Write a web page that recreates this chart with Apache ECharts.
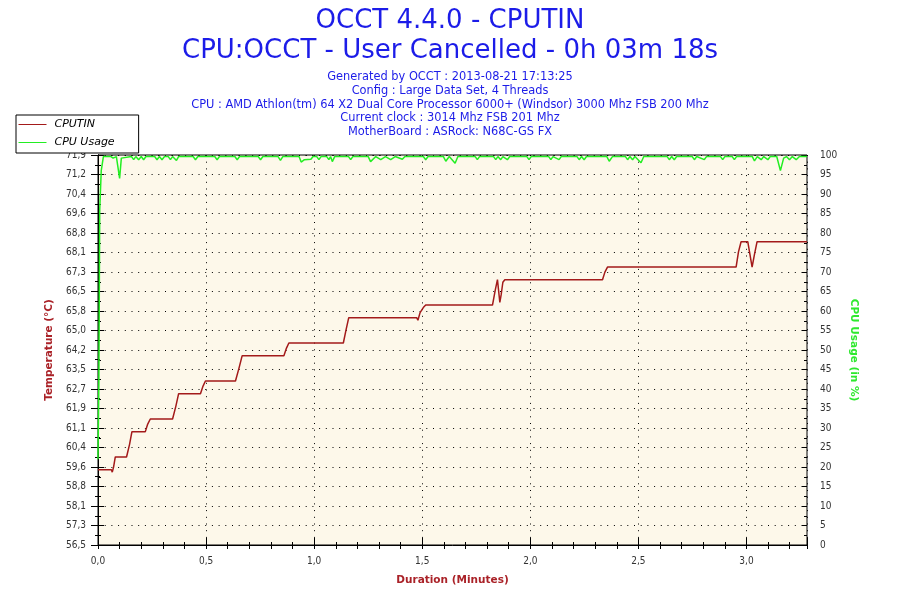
<!DOCTYPE html>
<html>
<head>
<meta charset="utf-8">
<script src="https://cdn.jsdelivr.net/npm/echarts@6/dist/echarts.min.js"></script>
<style>html,body{margin:0;padding:0;background:#fff}#c{width:900px;height:600px}</style>
</head>
<body>
<div id="c"></div>
<script>
// ---- data ----
const titleLines = ['OCCT 4.4.0 - CPUTIN', 'CPU:OCCT - User Cancelled - 0h 03m 18s'];
const infoLines = [
  'Generated by OCCT : 2013-08-21 17:13:25',
  'Config : Large Data Set, 4 Threads',
  'CPU : AMD Athlon(tm) 64 X2 Dual Core Processor 6000+ (Windsor) 3000 Mhz FSB 200 Mhz',
  'Current clock : 3014 Mhz FSB 201 Mhz',
  'MotherBoard : ASRock: N68C-GS FX'
];
const seriesNames = ['CPUTIN', 'CPU Usage'];

const tempTimes = [0,0.062,0.066,0.072,0.08, 0.132,0.136,0.146,0.157, 0.219,0.23,0.242, 0.345,0.36,0.373,
  0.474,0.486,0.497, 0.636,0.652,0.667, 0.86,0.872,0.883, 1.135,1.147,1.16, 1.474,1.48,1.49,1.505,1.516,
  1.825,1.838,1.848,1.852,1.859,1.865,1.873,1.882, 2.334,2.345,2.357,
  2.952,2.963,2.975,3.006,3.016,3.026,3.037,3.049, 3.28];
const tempValues = [59.5,59.5,59.4,59.6,60.0, 60.0,59.95,60.5,61.0, 61.0,61.3,61.5, 61.5,62.0,62.5,
  62.5,62.8,63.0, 63.0,63.5,64.0, 64.0,64.3,64.5, 64.5,65.0,65.5, 65.5,65.4,65.7,65.9,66.0,
  66.0,66.6,67.0,67.0,66.1,66.4,66.9,67.0, 67.0,67.3,67.5,
  67.5,68.1,68.5,68.5,68.0,67.5,68.0,68.5, 68.5];

const cpuTimes = [0,0.004,0.008,0.015,0.025, 0.06,0.07,0.085,0.1,0.108,0.115,
  0.155,0.165,0.175,0.188,0.2,0.211,0.222, 0.262,0.273,0.284,0.296,0.308, 0.325,0.335,0.345,0.363,0.373,
  0.44,0.451,0.462, 0.54,0.551,0.562, 0.633,0.644,0.655, 0.741,0.752,0.763, 0.833,0.844,0.855,
  0.93,0.94,0.955,0.985,0.995, 1.012,1.022,1.032, 1.058,1.068,1.076,1.084,1.095, 1.159,1.169,1.179,
  1.25,1.261,1.285,1.308,1.33,1.354,1.375,1.408,1.42, 1.505,1.516,1.527, 1.598,1.609,1.625,1.652,1.665,
  1.745,1.755,1.765, 1.83,1.84,1.85,1.863,1.873,1.894,1.905, 1.984,1.994,2.004,
  2.085,2.095,2.105,2.133,2.143, 2.216,2.226,2.237,2.249,2.26, 2.354,2.365,2.38,
  2.44,2.45,2.461,2.473,2.484,2.512,2.525, 2.633,2.643,2.654,2.666,2.677, 2.749,2.759,2.77,2.805,2.815,
  2.88,2.89,2.9, 2.934,2.944,2.954, 3.027,3.037,3.05,3.068,3.08,3.099,3.11,
  3.14,3.157,3.172,3.185,3.199,3.212,3.23,3.245,3.28];
const cpuValues = [22,42,86,96,99.6, 99.6,99.2,99.6,94,99.2,99.6,
  99.6,98.8,99.6,98.8,99.6,98.8,99.6, 99.6,98.8,99.6,98.8,99.6, 99.6,98.8,99.6,98.6,99.6,
  99.6,98.8,99.6, 99.6,98.8,99.6, 99.6,98.8,99.6, 99.6,98.8,99.6, 99.6,98.6,99.6,
  99.6,98.2,98.8,98.9,99.6, 99.6,98.8,99.6, 99.6,98.8,99.6,98.3,99.6, 99.6,98.8,99.6,
  99.6,98.3,99.6,98.8,99.6,98.8,99.6,98.9,99.6, 99.6,98.8,99.6, 99.6,98.4,99.6,97.9,99.6,
  99.6,98.8,99.6, 99.6,98.8,99.6,98.8,99.6,98.8,99.6, 99.6,98.8,99.6,
  99.6,98.8,99.6,98.8,99.6, 99.6,98.8,99.6,98.8,99.6, 99.6,98.4,99.6,
  99.6,98.8,99.6,98.8,99.6,98.0,99.6, 99.6,98.8,99.6,98.8,99.6, 99.6,98.8,99.6,98.8,99.6,
  99.6,98.8,99.6, 99.6,98.8,99.6, 99.6,98.5,99.6,98.8,99.6,98.8,99.6,
  99.6,96,99.2,99.6,98.8,99.6,98.8,99.6,99.6];

const xTickLabels = ['0,0','0,5','1,0','1,5','2,0','2,5','3,0'];
const tempTickLabels = ['56,5','57,3','58,1','58,8','59,6','60,4','61,1','61,9','62,7','63,5','64,2',
  '65,0','65,8','66,5','67,3','68,1','68,8','69,6','70,4','71,2','71,9'];
const X_MAX = 3.28;
const TEMP_MIN = 56.524, TEMP_MAX = 71.924;

// ---- styling ----
const BLUE = '#1C1CE8', RED = '#A31A1A', GREEN = '#22EE22', NAME_RED = '#AA2228', NAME_GREEN = '#2EE82E';
const FONT = '"DejaVu Sans", Verdana, sans-serif';
const TICK_FONT = '"DejaVu Sans Condensed", "Liberation Sans", Arial, sans-serif';
const DOT = {color: '#000', width: 1, type: [1, 5.7]};

const tempData = tempTimes.map((t, i) => [t, tempValues[i]]);
const cpuData = cpuTimes.map((t, i) => [t, cpuValues[i]]);
const tempStep = (TEMP_MAX - TEMP_MIN) / (tempTickLabels.length - 1);

function xLabel(v) {
  const k = v / 0.5;
  if (Math.abs(k - Math.round(k)) > 1e-6) return '';
  return xTickLabels[Math.round(k)] || '';
}
function tempLabel(v) {
  const k = Math.round((v - TEMP_MIN) / tempStep);
  return tempTickLabels[k] || '';
}

const tickLabelStyle = {color: '#333', fontFamily: TICK_FONT, fontSize: 10};
const nameStyle = {fontFamily: FONT, fontWeight: 'bold', fontSize: 10.5};

const graphics = [];
graphics.push({type: 'text', x: 450, y: 21.5, silent: true,
  style: {text: titleLines[0], fill: BLUE, font: '26px ' + FONT, align: 'center', verticalAlign: 'middle'}});
graphics.push({type: 'text', x: 450, y: 51, silent: true,
  style: {text: titleLines[1], fill: BLUE, font: '26px ' + FONT, align: 'center', verticalAlign: 'middle'}});
const infoY = [77.5, 91.5, 105, 118.5, 132];
infoLines.forEach((s, i) => graphics.push({type: 'text', x: 450, y: infoY[i], silent: true,
  style: {text: s, fill: BLUE, font: '11.4px ' + FONT, align: 'center', verticalAlign: 'middle'}}));

const chart = echarts.init(document.getElementById('c'), null, {renderer: 'canvas'});
chart.setOption({
  animation: false,
  backgroundColor: '#fff',
  graphic: {elements: graphics},
  legend: {
    left: 16, top: 115, orient: 'vertical',
    padding: [4, 24, 5, 2], itemGap: 7, itemWidth: 28, itemHeight: 10,
    backgroundColor: '#fff', borderColor: '#000', borderWidth: 1, borderRadius: 0,
    itemStyle: {opacity: 0},
    lineStyle: {width: 1},
    textStyle: {fontFamily: FONT, fontStyle: 'italic', fontSize: 11, color: '#000', padding: [0, 0, 0, 3]},
    data: seriesNames
  },
  grid: {left: 98, right: 93, top: 155, bottom: 55, show: true, backgroundColor: '#FDF8EA',
    borderColor: '#000', borderWidth: 1},
  xAxis: [
    {type: 'value', min: 0, max: X_MAX, interval: 0.1, position: 'bottom',
      axisLine: {show: true, lineStyle: {color: '#000', width: 1}},
      axisTick: {show: true, length: 4, lineStyle: {color: '#000'}},
      axisLabel: Object.assign({margin: 11, formatter: xLabel}, tickLabelStyle),
      splitLine: {show: false},
      name: 'Duration (Minutes)', nameLocation: 'middle', nameGap: 30,
      nameTextStyle: Object.assign({color: NAME_RED}, nameStyle)},
    {type: 'value', min: 0, max: X_MAX, interval: 0.1, position: 'bottom',
      axisLine: {show: false}, axisTick: {show: true, inside: true, length: 3, lineStyle: {color: '#000'}},
      axisLabel: {show: false}, splitLine: {show: false}},
    {type: 'value', min: 0, max: X_MAX, interval: 0.5, position: 'bottom',
      axisLine: {show: false}, axisTick: {show: true, inside: true, length: 7, lineStyle: {color: '#000'}},
      axisLabel: {show: false}, splitLine: {show: true, lineStyle: DOT}}
  ],
  yAxis: [
    {type: 'value', position: 'left', min: TEMP_MIN, max: TEMP_MAX, alignTicks: true,
      axisLine: {show: true, lineStyle: {color: '#000', width: 1}},
      axisTick: {show: true, length: 7, lineStyle: {color: '#000'}},
      minorTick: {show: true, splitNumber: 2, length: 3, lineStyle: {color: '#000'}},
      axisLabel: Object.assign({margin: 12, formatter: tempLabel}, tickLabelStyle),
      splitLine: {show: true, lineStyle: DOT},
      name: 'Temperature (°C)', nameLocation: 'middle', nameGap: 42,
      nameTextStyle: Object.assign({color: NAME_RED}, nameStyle)},
    {type: 'value', position: 'right', min: 0, max: 100, interval: 5,
      axisLine: {show: true, lineStyle: {color: '#000', width: 1}},
      axisTick: {show: true, length: 5, lineStyle: {color: '#000'}},
      minorTick: {show: true, splitNumber: 2, length: 3, lineStyle: {color: '#000'}},
      axisLabel: Object.assign({margin: 13}, tickLabelStyle),
      splitLine: {show: false},
      name: 'CPU Usage (in %)', nameLocation: 'middle', nameGap: 30, nameRotate: -90,
      nameTextStyle: Object.assign({color: NAME_GREEN}, nameStyle)},
    {type: 'value', position: 'left', min: TEMP_MIN, max: TEMP_MAX, alignTicks: true,
      axisLine: {show: false},
      axisTick: {show: true, inside: true, length: 6, lineStyle: {color: '#000'}},
      minorTick: {show: true, splitNumber: 2, length: 2, lineStyle: {color: '#000'}},
      axisLabel: {show: false}, splitLine: {show: false}},
    {type: 'value', position: 'right', min: 0, max: 100, interval: 5,
      axisLine: {show: false},
      axisTick: {show: true, inside: true, length: 5, lineStyle: {color: '#000'}},
      minorTick: {show: true, splitNumber: 2, length: 3, lineStyle: {color: '#000'}},
      axisLabel: {show: false}, splitLine: {show: false}}
  ],
  series: [
    {name: seriesNames[0], type: 'line', xAxisIndex: 0, yAxisIndex: 0, data: tempData,
      symbol: 'none', showSymbol: false, lineStyle: {color: RED, width: 1.5}, itemStyle: {color: RED}, z: 3},
    {name: seriesNames[1], type: 'line', xAxisIndex: 0, yAxisIndex: 1, data: cpuData,
      symbol: 'none', showSymbol: false, clip: false, lineStyle: {color: GREEN, width: 1.5},
      itemStyle: {color: GREEN}, z: 4}
  ]
});
</script>
</body>
</html>
